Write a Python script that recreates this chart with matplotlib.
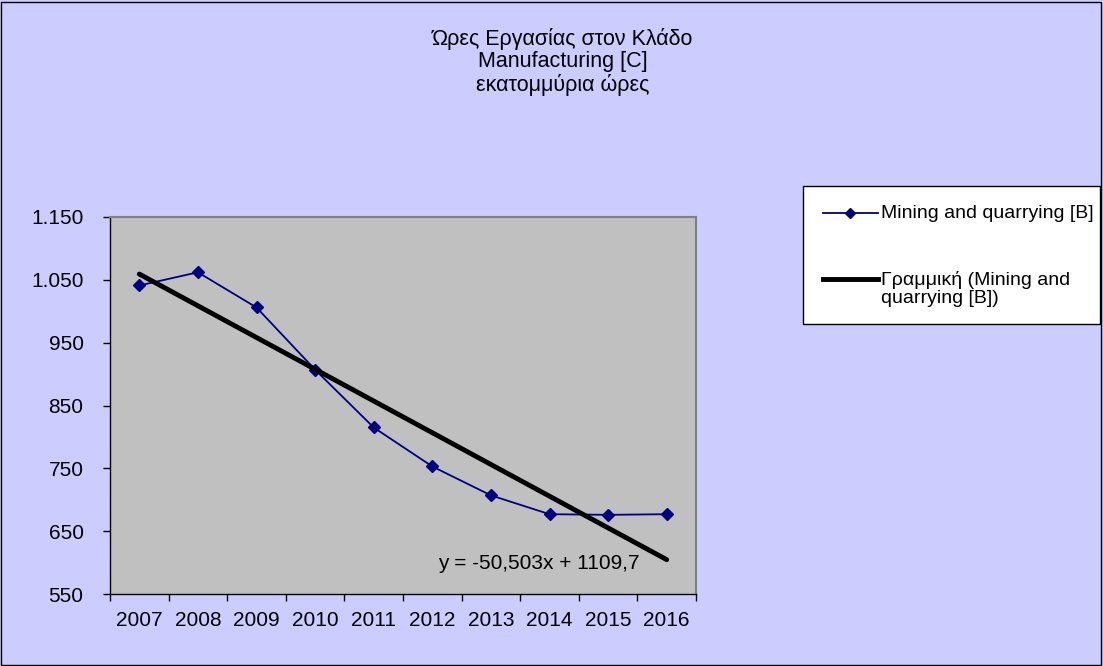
import numpy as np
import matplotlib
matplotlib.use("Agg")
import matplotlib.pyplot as plt
from matplotlib.lines import Line2D
from matplotlib.ticker import FuncFormatter, FixedLocator

plt.rcParams['font.family'] = ['Liberation Sans', 'DejaVu Sans']

years = ['2007', '2008', '2009', '2010', '2011', '2012', '2013', '2014', '2015', '2016']
hours = [1041, 1062, 1006, 907, 815, 753, 707, 677, 676, 677]
slope = -50.503
intercept = 1109.7
series_label = 'Mining and quarrying [B]'
trend_label = 'Γραμμική (Mining and\nquarrying [B])'
title = 'Ώρες Εργασίας στον Κλάδο\nManufacturing [C]\nεκατομμύρια ώρες'

W, H = 1103, 666
fig = plt.figure(figsize=(W / 100, H / 100), dpi=100, facecolor='#CCCCFF')
fig.patches.append(plt.Rectangle((0.001, 0.002), 0.997, 0.995, transform=fig.transFigure,
                                 fill=False, edgecolor='black', linewidth=1))

ax = fig.add_axes([110 / W, 1 - 594 / H, 586 / W, 377 / H])
ax.set_facecolor('#C0C0C0')

x = np.arange(1, len(years) + 1)
ax.plot(x, hours, color='#000080', marker='D', markersize=6.5, linewidth=1.3)
ax.plot(x, slope * x + intercept, color='black', linewidth=3.5, solid_capstyle='round')

ax.set_xlim(0.5, len(years) + 0.5)
ax.set_ylim(550, 1150)
ax.set_yticks(np.arange(550, 1151, 100))
ax.yaxis.set_major_formatter(FuncFormatter(lambda v, p: f'{int(v):,}'.replace(',', '.')))
ax.xaxis.set_major_locator(FixedLocator(np.arange(0.5, len(years) + 1, 1)))
ax.xaxis.set_major_formatter(FuncFormatter(lambda v, p: ''))
ax.xaxis.set_minor_locator(FixedLocator(x))
ax.set_xticklabels(years, minor=True)
ax.tick_params(axis='x', which='minor', length=0, labelsize=15, pad=12)
ax.tick_params(axis='x', which='major', length=5, direction='out', width=1)
ax.tick_params(axis='y', length=5, direction='out', width=1, labelsize=15, pad=14)

for s in ['top', 'right']:
    ax.spines[s].set_color('#808080')
    ax.spines[s].set_linewidth(1.5)
for s in ['left', 'bottom']:
    ax.spines[s].set_color('black')
    ax.spines[s].set_linewidth(1)

ax.text(7.82, 599, 'y = -50,503x + 1109,7', fontsize=15, ha='center', va='center')

fig.text(0.51, 1 - 62 / H, title, ha='center', va='center', fontsize=15.5, linespacing=1.1)

# legend box drawn by hand (Excel style: handle next to first text line)
fig.patches.append(plt.Rectangle((803 / W, 1 - 324 / H), 297 / W, 138 / H,
                                 transform=fig.transFigure, facecolor='white',
                                 edgecolor='black', linewidth=1))
fig.add_artist(Line2D([823 / W, 878 / W], [1 - 213 / H] * 2, color='#000080', linewidth=1.3))
fig.add_artist(Line2D([850 / W], [1 - 213 / H], color='#000080', marker='D', markersize=5))
fig.text(881 / W, 1 - 213 / H, series_label, fontsize=14, ha='left', va='center')
fig.add_artist(Line2D([823 / W, 878 / W], [1 - 279 / H] * 2, color='black', linewidth=3.5))
fig.text(881 / W, 1 - 289 / H, trend_label, fontsize=14, ha='left', va='center', linespacing=1.12)

fig.savefig('out.png', dpi=100, facecolor=fig.get_facecolor())
